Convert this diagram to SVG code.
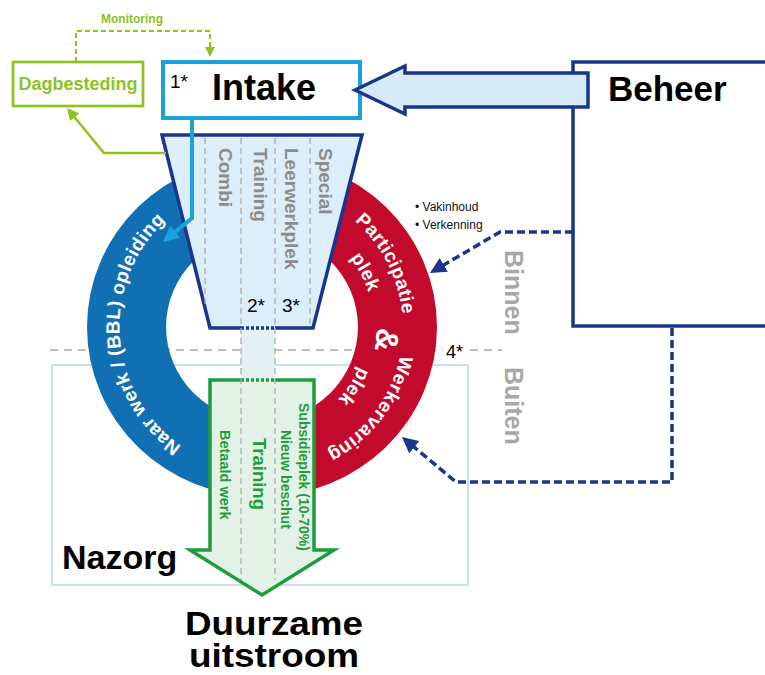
<svg xmlns="http://www.w3.org/2000/svg" width="765" height="675" viewBox="0 0 765 675">
<defs>
<style>
text{font-family:"Liberation Sans",Arial,Helvetica,sans-serif}
.b{font-weight:bold}
.ring{font-weight:bold;fill:#fff;font-size:19px;letter-spacing:0.4px}
.fl{font-weight:bold;fill:#8c8c8c;font-size:19px}
.gl{font-weight:bold;fill:#1f9d3d}
.side{font-weight:bold;fill:#a8a8a8;font-size:25px}
.gdash{fill:none;stroke:#ababab;stroke-width:1.3;stroke-dasharray:6 4}
.navydash{fill:none;stroke:#1a368c;stroke-width:3.5;stroke-dasharray:8 4}
.lime{fill:none;stroke:#8dc21f;stroke-width:2.5}
</style>
<marker id="mNavy" markerUnits="userSpaceOnUse" viewBox="0 0 16 16" markerWidth="16" markerHeight="16" refX="6" refY="8" orient="auto"><path d="M0,0 L16,8 L0,16 Z" fill="#1a368c"/></marker>
<marker id="mLime" markerUnits="userSpaceOnUse" viewBox="0 0 12 12" markerWidth="12" markerHeight="12" refX="4" refY="6" orient="auto"><path d="M0,0 L12,6 L0,12 Z" fill="#8dc21f"/></marker>
<marker id="mLimeS" markerUnits="userSpaceOnUse" viewBox="0 0 10 10" markerWidth="10" markerHeight="10" refX="2" refY="5" orient="auto"><path d="M0,0 L10,5 L0,10 Z" fill="#8dc21f"/></marker>
<marker id="mBlue" markerUnits="userSpaceOnUse" viewBox="0 0 16 16" markerWidth="16" markerHeight="16" refX="6" refY="8" orient="auto"><path d="M0,0 L16,8 L0,16 Z" fill="#1ba1de"/></marker>
<path id="pBlue" d="M272.2,472.6 A146,146 0 0 1 251.8,181.4"/>
<path id="pPart" d="M197.5,200.5 A142,142 0 0 1 326.5,453.5"/>
<path id="pPlek1" d="M209.4,228.1 A112,112 0 0 1 314.6,425.9"/>
<path id="pWerk" d="M346.9,214.4 A141,141 0 0 1 177.1,439.6"/>
<path id="pPlek2" d="M320.3,237.3 A107,107 0 0 1 203.7,416.7"/>
</defs>
<rect width="765" height="675" fill="#fff"/>

<g id="nazorg">
<rect x="52" y="365" width="416" height="220" fill="#fff" stroke="#b3d8ec" stroke-width="1.5"/>
<text x="62" y="569" class="b" font-size="34" fill="#000">Nazorg</text>
</g>

<g id="grens">
<path d="M50,350 H443 M470,350 H502" class="gdash" style="stroke-dasharray:8 6"/>
<text x="446" y="358" font-size="18" fill="#000">4*</text>
</g>

<g id="ring">
<path d="M262,157 A175,170 0 0 0 262,497 L262,421 A96,94 0 0 1 262,233 Z" fill="#1170b4"/>
<path d="M262,157 A175,170 0 0 1 262,497 L262,421 A96,94 0 0 0 262,233 Z" fill="#c20a2c"/>
<text class="ring"><textPath href="#pBlue" startOffset="50%" text-anchor="middle">Naar werk / (BBL) opleiding</textPath></text>
<text class="ring"><textPath href="#pPart" startOffset="50%" text-anchor="middle">Participatie</textPath></text>
<text class="ring"><textPath href="#pPlek1" startOffset="50%" text-anchor="middle">plek</textPath></text>
<text class="ring"><textPath href="#pWerk" startOffset="50%" text-anchor="middle">Werkervaring</textPath></text>
<text class="ring"><textPath href="#pPlek2" startOffset="50%" text-anchor="middle">plek</textPath></text>
<text transform="translate(387,340) rotate(96)" class="b" font-size="32" fill="#fff" text-anchor="middle" dominant-baseline="central">&amp;</text>
</g>

<rect x="241" y="328" width="34" height="52" fill="#e2f0f4"/>

<g id="funnel">
<polygon points="162,135 362,135 313,328 210,328" fill="#dbeefa"/>
<path d="M241,328 L210,328 L162,135 L362,135 L313,328 L275,328" fill="none" stroke="#1a368c" stroke-width="3.5"/>
<path d="M241,328 H275" fill="none" stroke="#1a368c" stroke-width="3.5" stroke-dasharray="3 2"/>
</g>

<g id="uitstroom-pijl">
<polygon points="210,380 314,380 314,550 334,550 262,595 190,550 210,550" fill="#e3f2e6"/>
<path d="M241,380 L210,380 L210,550 L190,550 L262,595 L334,550 L314,550 L314,380 L275,380" fill="none" stroke="#1f9d3d" stroke-width="3.5"/>
<path d="M241,380 H275" fill="none" stroke="#1f9d3d" stroke-width="3.5" stroke-dasharray="3 2"/>
</g>

<g id="kolommen">
<path d="M205,138 V306 M310,138 V326 M241,138 V580 M275,138 V580" class="gdash"/>
<text class="fl" transform="translate(219,148) rotate(90)">Combi</text>
<text class="fl" transform="translate(254,148) rotate(90)">Training</text>
<text class="fl" transform="translate(285,148) rotate(90)">Leerwerkplek</text>
<text class="fl" transform="translate(319,148) rotate(90)">Special</text>
<text x="247" y="312" font-size="19" fill="#000">2*</text>
<text x="282" y="312" font-size="19" fill="#000">3*</text>
<text class="gl" transform="translate(220,430) rotate(90)" font-size="14.5">Betaald werk</text>
<text class="gl" transform="translate(253,438) rotate(90)" font-size="18.5">Training</text>
<text class="gl" transform="translate(281,430) rotate(90)" font-size="14">Nieuw beschut</text>
<text class="gl" transform="translate(299,403) rotate(90)" font-size="14">Subsidieplek (10-70%)</text>
</g>

<g id="intake">
<rect x="163" y="62" width="197" height="56" fill="#fff" stroke="#1ba1de" stroke-width="4"/>
<text x="170" y="88" font-size="19" fill="#000">1*</text>
<text x="264" y="100" class="b" font-size="36" fill="#000" text-anchor="middle">Intake</text>
</g>

<g id="dagbesteding">
<rect x="13" y="62" width="130" height="44" fill="#fff" stroke="#8dc21f" stroke-width="2.7"/>
<text x="78" y="90" class="b" font-size="18" fill="#8dc21f" text-anchor="middle">Dagbesteding</text>
</g>

<g id="beheer">
<rect x="573" y="62" width="210" height="264" fill="#fff" stroke="#1a368c" stroke-width="3.5"/>
<text x="608" y="101" class="b" font-size="35" fill="#000">Beheer</text>
</g>

<g id="connectors">
<polygon points="355,90 405,66 405,73 588,73 588,107 405,107 405,114" fill="#d6eaf7" stroke="#1a368c" stroke-width="3.5"/>
<path d="M76,62 V31 H210 V49" class="lime" style="stroke-width:2;stroke-dasharray:5 3" marker-end="url(#mLimeS)"/>
<path d="M166,153 H104 L72.1,114.2" class="lime" marker-end="url(#mLime)"/>
<path d="M192,118 V218 L170.7,235.6" fill="none" stroke="#1ba1de" stroke-width="4" marker-end="url(#mBlue)"/>
<path d="M573,232 H500 L438.6,268" class="navydash" marker-end="url(#mNavy)"/>
<path d="M672,328 V482 H456 L409.7,443.4" class="navydash" marker-end="url(#mNavy)"/>
</g>

<g id="labels">
<text x="132" y="23" class="b" font-size="12" fill="#8dc21f" text-anchor="middle">Monitoring</text>
<text x="415" y="211" font-size="12" fill="#111">• Vakinhoud</text>
<text x="415" y="229" font-size="12" fill="#111">• Verkenning</text>
<text class="side" transform="translate(505,250) rotate(90)">Binnen</text>
<text class="side" transform="translate(505,367) rotate(90)">Buiten</text>
<text x="274" y="635" class="b" font-size="33" fill="#000" text-anchor="middle" textLength="178" lengthAdjust="spacingAndGlyphs">Duurzame</text>
<text x="274" y="667" class="b" font-size="33" fill="#000" text-anchor="middle" textLength="170" lengthAdjust="spacingAndGlyphs">uitstroom</text>
</g>
</svg>
